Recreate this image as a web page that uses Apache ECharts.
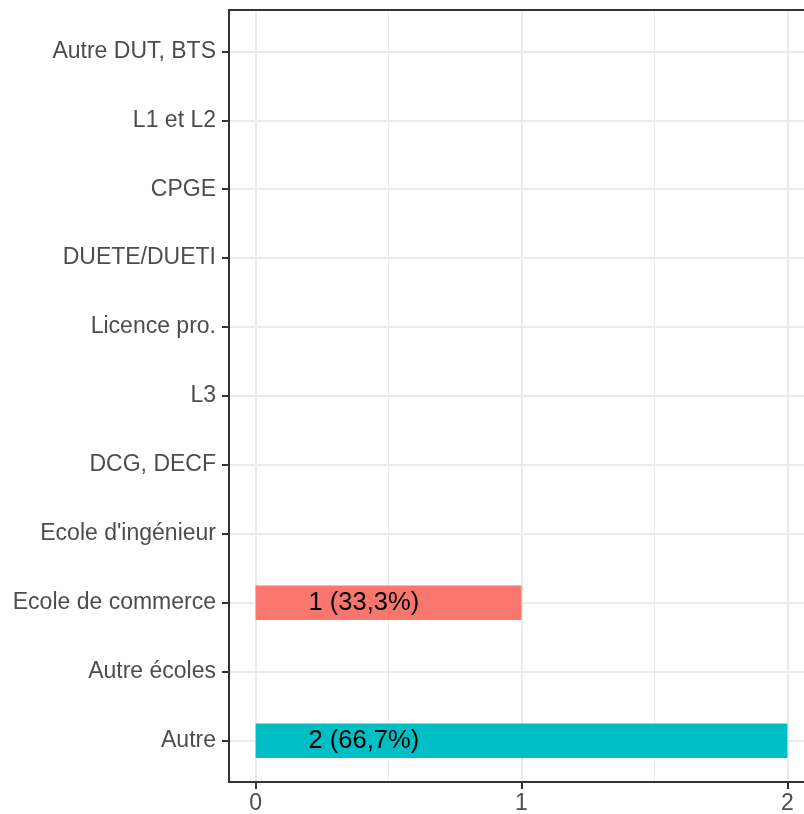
<!DOCTYPE html>
<html>
<head>
<meta charset="utf-8">
<title>Formation d'origine</title>
<script src="https://cdn.jsdelivr.net/npm/echarts@6/dist/echarts.min.js"></script>
<style>
    html, body {
        margin: 0;
        padding: 0;
        background-color: #ffffff;
    }

    #main {
        width: 804px;
        height: 814px;
    }
</style>
</head>
<body>
<div id="main"></div>
<script>
    // catégories, de haut en bas
    var categories = [
        'Autre DUT, BTS',
        'L1 et L2',
        'CPGE',
        'DUETE/DUETI',
        'Licence pro.',
        'L3',
        'DCG, DECF',
        "Ecole d'ingénieur",
        'Ecole de commerce',
        'Autre écoles',
        'Autre'
    ];
    // effectifs par catégorie
    var counts = [0, 0, 0, 0, 0, 0, 0, 0, 1, 0, 2];
    // graduations de l'axe x
    var xTicks = [0, 1, 2];
    var xMinorTicks = [0.5, 1.5];

    var barColors = ['#F8766D', '#00BFC4'];
    var fontFamily = '"Liberation Sans", Arial, sans-serif';

    var total = counts.reduce(function (a, b) { return a + b; }, 0);
    var catIndex = categories.map(function (c, i) { return i; });

    // seules les catégories non vides ont une barre
    var barData = [];
    counts.forEach(function (v, i) {
        if (v > 0) {
            barData.push([v, i]);
        }
    });

    function barLabel(v) {
        return v + ' (' + (v / total * 100).toFixed(1).replace('.', ',') + '%)';
    }

    function renderBar(params, api) {
        var idx = api.value(1);
        var val = api.value(0);
        var start = api.coord([0, idx]);
        var end = api.coord([val, idx]);
        var h = api.size([0, 0.5])[1];
        return {
            type: 'rect',
            shape: {
                x: start[0],
                y: start[1] - h / 2,
                width: end[0] - start[0],
                height: h
            },
            style: {
                fill: barColors[params.dataIndex % barColors.length]
            },
            textContent: {
                style: {
                    text: barLabel(val),
                    fontSize: 25.5,
                    fontFamily: fontFamily,
                    fill: '#000000'
                }
            },
            textConfig: {
                position: 'insideLeft',
                distance: 53
            }
        };
    }

    var chart = echarts.init(document.getElementById('main'));
    chart.setOption({
        animation: false,
        backgroundColor: '#ffffff',
        // le panneau déborde à droite de l'image
        grid: {
            left: 229,
            top: 10,
            width: 585,
            bottom: 32,
            outerBoundsMode: 'none',
            containLabel: false,
            show: true,
            z: 3,
            backgroundColor: 'transparent',
            borderColor: '#333333',
            borderWidth: 2
        },
        xAxis: [
            {
                type: 'value',
                min: -0.1,
                max: 2.1,
                position: 'bottom',
                axisLine: { show: false, onZero: false },
                axisTick: {
                    show: true,
                    customValues: xTicks,
                    length: 7,
                    lineStyle: { color: '#333333', width: 2 }
                },
                axisLabel: {
                    customValues: xTicks,
                    fontSize: 23,
                    fontFamily: fontFamily,
                    color: '#4D4D4D',
                    margin: 10
                },
                splitLine: {
                    show: true,
                    lineStyle: { color: '#EBEBEB', width: 2 }
                }
            },
            {
                // grille secondaire
                type: 'value',
                min: -0.1,
                max: 2.1,
                position: 'bottom',
                axisLine: { show: false, onZero: false },
                axisTick: { show: false, customValues: xMinorTicks },
                axisLabel: { show: false },
                splitLine: {
                    show: true,
                    lineStyle: { color: '#EBEBEB', width: 1 }
                }
            }
        ],
        yAxis: {
            type: 'value',
            inverse: true,
            min: -0.6,
            max: 10.6,
            axisLine: { show: false, onZero: false },
            axisTick: {
                show: true,
                customValues: catIndex,
                length: 7,
                lineStyle: { color: '#333333', width: 2 }
            },
            axisLabel: {
                customValues: catIndex,
                formatter: function (v) {
                    return categories[v];
                },
                fontSize: 23,
                fontFamily: fontFamily,
                color: '#4D4D4D',
                margin: 13
            },
            splitLine: {
                show: true,
                lineStyle: { color: '#EBEBEB', width: 2 }
            }
        },
        series: [
            {
                name: 'effectif',
                type: 'custom',
                xAxisIndex: 0,
                yAxisIndex: 0,
                renderItem: renderBar,
                encode: { x: 0, y: 1 },
                data: barData
            }
        ]
    });
</script>
</body>
</html>
